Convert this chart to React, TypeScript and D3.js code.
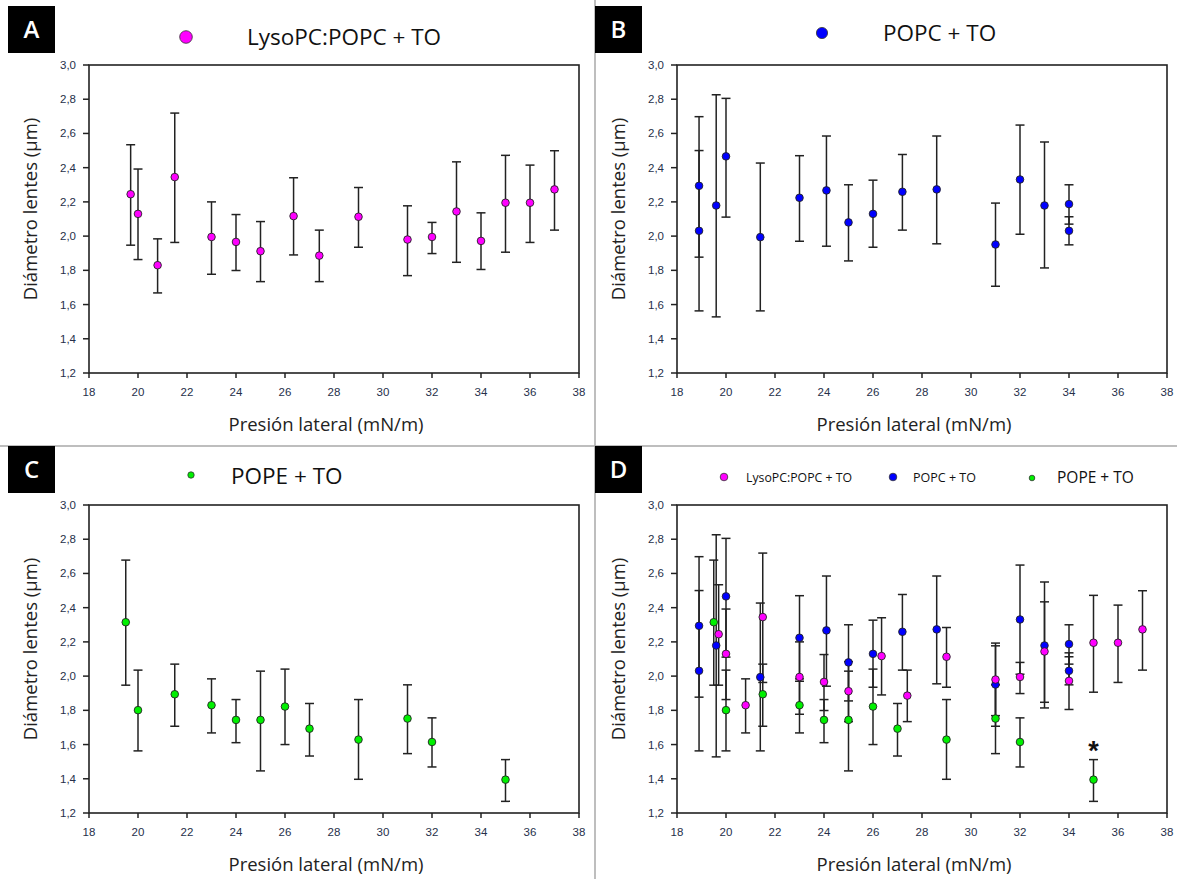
import * as d3 from "d3";

// Presión lateral (mN/m) / Diámetro lentes (µm), mean with error bar ends
const LYSO_X = [19.7, 20, 20.8, 21.5, 23, 24, 25, 26.35, 27.4, 29, 31, 32, 33, 34, 35, 36, 37];
const LYSO_Y = [2.245, 2.13, 1.83, 2.345, 1.995, 1.966, 1.912, 2.117, 1.886, 2.113, 1.98, 1.995, 2.144, 1.972, 2.195, 2.195, 2.273];
const LYSO_HI = [2.534, 2.392, 1.984, 2.719, 2.2, 2.126, 2.085, 2.341, 2.035, 2.284, 2.177, 2.08, 2.434, 2.136, 2.472, 2.415, 2.499];
const LYSO_LO = [1.947, 1.863, 1.668, 1.963, 1.777, 1.799, 1.734, 1.89, 1.734, 1.935, 1.769, 1.898, 1.847, 1.805, 1.906, 1.963, 2.035];

const POPC_X = [18.9, 18.9, 19.6, 20, 21.4, 23, 24.1, 25, 26, 27.2, 28.6, 31, 32, 33, 34, 34];
const POPC_Y = [2.294, 2.031, 2.179, 2.466, 1.994, 2.224, 2.267, 2.08, 2.13, 2.259, 2.273, 1.951, 2.331, 2.179, 2.187, 2.031];
const POPC_HI = [2.698, 2.5, 2.826, 2.805, 2.427, 2.47, 2.585, 2.3, 2.327, 2.477, 2.585, 2.193, 2.649, 2.55, 2.3, 2.113];
const POPC_LO = [1.877, 1.563, 1.528, 2.111, 1.563, 1.97, 1.941, 1.855, 1.935, 2.035, 1.955, 1.707, 2.011, 1.814, 2.07, 1.949];

const POPE_X = [19.5, 20, 21.5, 23, 24, 25, 26, 27, 29, 31, 32, 35];
const POPE_Y = [2.315, 1.801, 1.894, 1.83, 1.744, 1.744, 1.822, 1.693, 1.629, 1.752, 1.615, 1.395];
const POPE_HI = [2.678, 2.035, 2.07, 1.984, 1.863, 2.029, 2.041, 1.84, 1.863, 1.949, 1.756, 1.512];
const POPE_LO = [1.947, 1.563, 1.707, 1.668, 1.611, 1.446, 1.6, 1.533, 1.397, 1.547, 1.469, 1.268];

const X_TICKS = [18, 20, 22, 24, 26, 28, 30, 32, 34, 36, 38];
const Y_TICKS = [1.2, 1.4, 1.6, 1.8, 2.0, 2.2, 2.4, 2.6, 2.8, 3.0];

type Series = { name: string; color: string; xs: number[]; ys: number[]; hi: number[]; lo: number[] };

const LYSO: Series = { name: "LysoPC:POPC + TO", color: "#ff00ff", xs: LYSO_X, ys: LYSO_Y, hi: LYSO_HI, lo: LYSO_LO };
const POPC: Series = { name: "POPC + TO", color: "#0000ff", xs: POPC_X, ys: POPC_Y, hi: POPC_HI, lo: POPC_LO };
const POPE: Series = { name: "POPE + TO", color: "#00f000", xs: POPE_X, ys: POPE_Y, hi: POPE_HI, lo: POPE_LO };

const PW = 490;
const PH = 308;
const LABEL_FONT = "'Open Sans', 'Noto Sans', sans-serif";
const TICK_FONT = "'Liberation Sans', Arial, sans-serif";
const fmt = (v: number) => d3.format(".1f")(v).replace(".", ",");

function LetterBox({ x, y, letter }: { x: number; y: number; letter: string }) {
  return (
    <g>
      <rect x={x} y={y} width={47} height={47} fill="#000" />
      <text x={x + 23.5} y={y + 32} textAnchor="middle" fill="#fff" fontFamily={LABEL_FONT} fontWeight={600} fontSize={24}>
        {letter}
      </text>
    </g>
  );
}

function Panel({ ox, oy, series, star }: { ox: number; oy: number; series: Series[]; star?: boolean }) {
  const x = d3.scaleLinear().domain([18, 38]).range([ox, ox + PW]);
  const y = d3.scaleLinear().domain([1.2, 3.0]).range([oy + PH, oy]);
  return (
    <g>
      {/* error bars */}
      {series.map((s) =>
        s.xs.map((xv, i) => (
          <g key={s.name + "e" + i} stroke="#222" strokeWidth={1.5}>
            <line x1={x(xv)} x2={x(xv)} y1={y(s.hi[i])} y2={y(s.lo[i])} />
            <line x1={x(xv) - 4.5} x2={x(xv) + 4.5} y1={y(s.hi[i])} y2={y(s.hi[i])} />
            <line x1={x(xv) - 4.5} x2={x(xv) + 4.5} y1={y(s.lo[i])} y2={y(s.lo[i])} />
          </g>
        ))
      )}
      {series.map((s) =>
        s.xs.map((xv, i) => (
          <circle key={s.name + "p" + i} cx={x(xv)} cy={y(s.ys[i])} r={3.8} fill={s.color} stroke="#222" strokeWidth={0.9} />
        ))
      )}
      {star && (
        <text x={x(35)} y={y(1.595) + 15} textAnchor="middle" fontFamily={TICK_FONT} fontWeight={700} fontSize={27} fill="#111">
          *
        </text>
      )}
      {/* frame */}
      <rect x={ox} y={oy} width={PW} height={PH} fill="none" stroke="#222" strokeWidth={1.6} />
      {Y_TICKS.map((t) => (
        <g key={"y" + t}>
          <line x1={ox - 6} x2={ox} y1={y(t)} y2={y(t)} stroke="#222" strokeWidth={1.5} />
          <text x={ox - 13} y={y(t) + 4} textAnchor="end" fontFamily={TICK_FONT} fontSize={11.5} fill="#26304a">
            {fmt(t)}
          </text>
        </g>
      ))}
      {X_TICKS.map((t) => (
        <g key={"x" + t}>
          <line x1={x(t)} x2={x(t)} y1={oy + PH} y2={oy + PH + 5} stroke="#222" strokeWidth={1.5} />
          <text x={x(t)} y={oy + PH + 23} textAnchor="middle" fontFamily={TICK_FONT} fontSize={11.5} fill="#26304a">
            {t}
          </text>
        </g>
      ))}
      <text
        transform={`translate(${ox - 52},${oy + 144}) rotate(-90)`}
        textAnchor="middle"
        fontFamily={LABEL_FONT}
        fontSize={18.5}
        fill="#222"
      >
        Diámetro lentes (µm)
      </text>
      <text x={ox + 237} y={oy + 366} textAnchor="middle" fontFamily={LABEL_FONT} fontSize={18.5} fill="#222">
        Presión lateral (mN/m)
      </text>
    </g>
  );
}

export default function App() {
  return (
    <svg width={1177} height={879} style={{ position: "absolute", left: 0, top: 0, background: "#fff" }}>
      <rect width={1177} height={879} fill="#fff" />
      {/* panel separators */}
      <line x1={595} x2={595} y1={0} y2={879} stroke="#a8a8a8" strokeWidth={1.5} />
      <line x1={0} x2={1177} y1={446} y2={446} stroke="#a8a8a8" strokeWidth={1.5} />

      <Panel ox={89} oy={65} series={[LYSO]} />
      <Panel ox={677} oy={65} series={[POPC]} />
      <Panel ox={89} oy={505} series={[POPE]} />
      <Panel ox={677} oy={505} series={[POPE, POPC, LYSO]} star />

      {/* titles */}
      <circle cx={186} cy={37} r={6.3} fill={LYSO.color} stroke="#333" strokeWidth={0.8} />
      <text x={247} y={45} fontFamily={LABEL_FONT} fontSize={22.5} fill="#111">{LYSO.name}</text>
      <circle cx={822} cy={33} r={5.6} fill={POPC.color} stroke="#333" strokeWidth={0.8} />
      <text x={883} y={41} fontFamily={LABEL_FONT} fontSize={22.5} fill="#111">{POPC.name}</text>
      <circle cx={191} cy={475} r={3.2} fill={POPE.color} stroke="#333" strokeWidth={0.8} />
      <text x={231} y={484} fontFamily={LABEL_FONT} fontSize={22.5} fill="#111">{POPE.name}</text>

      {/* legend D */}
      <circle cx={724} cy={477} r={3.8} fill={LYSO.color} stroke="#333" strokeWidth={0.8} />
      <text x={746} y={481.5} fontFamily={LABEL_FONT} fontSize={12.3} fill="#111">{LYSO.name}</text>
      <circle cx={893} cy={477} r={3.8} fill={POPC.color} stroke="#333" strokeWidth={0.8} />
      <text x={913} y={481.5} fontFamily={LABEL_FONT} fontSize={12.5} fill="#111">{POPC.name}</text>
      <circle cx={1032} cy={478} r={2.8} fill={POPE.color} stroke="#333" strokeWidth={0.8} />
      <text x={1057} y={483} fontFamily={LABEL_FONT} fontSize={15.5} fill="#111">{POPE.name}</text>

      <LetterBox x={8} y={6} letter="A" />
      <LetterBox x={595} y={6} letter="B" />
      <LetterBox x={8} y={446} letter="C" />
      <LetterBox x={595} y={446} letter="D" />
    </svg>
  );
}
